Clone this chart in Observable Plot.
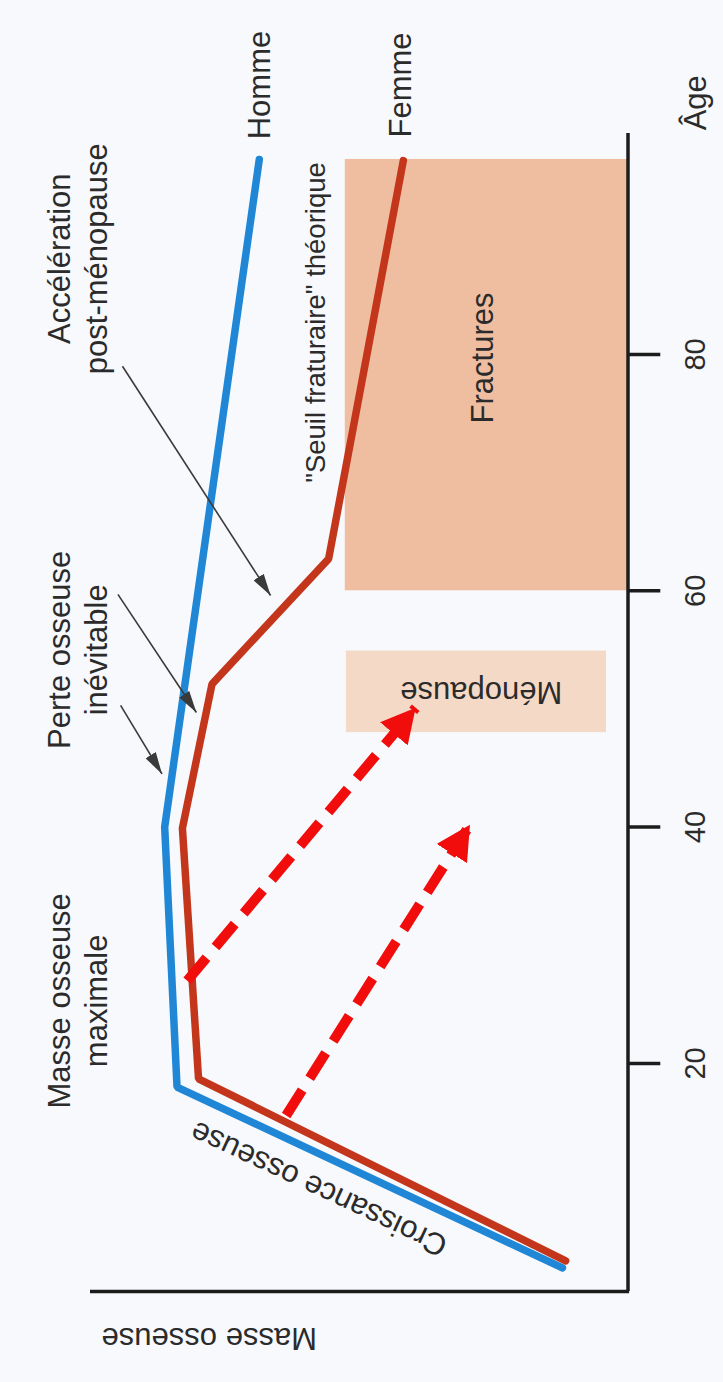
<!DOCTYPE html>
<html><head><meta charset="utf-8">
<script src="https://cdn.jsdelivr.net/npm/d3@7"></script>
<script src="https://cdn.jsdelivr.net/npm/@observablehq/plot@0.6"></script>
<style>
html,body{margin:0;padding:0;background:#f7f9fc;}
#chart svg{display:block;}
</style>
</head><body><div id="chart"></div>
<script>
// ---- data (age in years, bone mass in arbitrary units 0-100) ----
const hommeAge   = [2.7, 18.0, 40.0, 96.5];
const hommeMasse = [12.2, 83.9, 86.2, 68.6];
const femmeAge   = [3.3, 18.7, 39.9, 52.1, 62.7, 96.4];
const femmeMasse = [11.6, 79.9, 82.9, 77.4, 55.7, 41.8];
const ageTicks   = [20, 40, 60, 80];

const zoneLabels = ["Fractures", "Ménopause"];
const zoneAge1   = [60, 48.0];
const zoneAge2   = [96.5, 54.9];
const zoneMasse1 = [0, 4.0];
const zoneMasse2 = [52.6, 52.4];

const redFromAge   = [27.0, 15.6];
const redFromMasse = [82.0, 63.6];
const redToAge     = [50.1, 40.2];
const redToMasse   = [39.5, 29.4];

const blkFromAge   = [79.0, 59.7, 50.3];
const blkFromMasse = [94.05, 94.9, 94.4];
const blkToAge     = [59.6, 49.7, 44.5];
const blkToMasse   = [66.5, 80.3, 86.7];

const sideLabels = ["Accélération\npost-ménopause", "Perte osseuse\ninévitable", "Masse osseuse\nmaximale"];
const sideAge    = [88.1, 55.0, 25.3];

const BLUE = "#1f87d6", RED = "#c4361b", AXIS = "#1c1c1c", INK = "#2b2b2b";

const homme = hommeAge.map((a, i) => ({age: a, masse: hommeMasse[i]}));
const femme = femmeAge.map((a, i) => ({age: a, masse: femmeMasse[i]}));
const zones = zoneLabels.map((l, i) => ({label: l, a1: zoneAge1[i], a2: zoneAge2[i], m1: zoneMasse1[i], m2: zoneMasse2[i]}));
const redArrows = redFromAge.map((a, i) => ({a1: a, m1: redFromMasse[i], a2: redToAge[i], m2: redToMasse[i]}));
const blkArrows = blkFromAge.map((a, i) => ({a1: a, m1: blkFromMasse[i], a2: blkToAge[i], m2: blkToMasse[i]}));

function headMarker(len, wid) {
  return (color, context) => {
    const ns = "http://www.w3.org/2000/svg";
    const doc = (context && context.document) || document;
    const m = doc.createElementNS(ns, "marker");
    m.setAttribute("viewBox", `0 0 ${len} ${wid}`);
    m.setAttribute("markerWidth", len);
    m.setAttribute("markerHeight", wid);
    m.setAttribute("refX", len);
    m.setAttribute("refY", wid / 2);
    m.setAttribute("orient", "auto");
    m.setAttribute("markerUnits", "userSpaceOnUse");
    const p = doc.createElementNS(ns, "path");
    p.setAttribute("d", `M0,0L${len},${wid / 2}L0,${wid}Z`);
    p.setAttribute("fill", color);
    p.setAttribute("stroke", "none");
    p.setAttribute("stroke-dasharray", "none");
    m.appendChild(p);
    return m;
  };
}

const font = "'Liberation Sans', Arial, Helvetica, sans-serif";
const FS = 31;

const chart = Plot.plot({
  width: 723,
  height: 1382,
  margin: 0,
  x: {domain: [0, 100], range: [627.5, 90], axis: null},
  y: {domain: [0, 100], range: [1299.3, 117.6], axis: null},
  style: {fontFamily: font, background: "transparent", overflow: "visible"},
  marks: [
    Plot.rect(zones, {x1: "m1", x2: "m2", y1: "a1", y2: "a2",
      fill: d => d.label === "Fractures" ? "#efbea1" : "#f5d9c7"}),
    // axes
    Plot.ruleX([0], {y1: 0.7, y2: 98.7, stroke: AXIS, strokeWidth: 3.5}),
    Plot.ruleY([0.7], {x1: -0.3, x2: 100, stroke: AXIS, strokeWidth: 3.5}),
    Plot.ruleY(ageTicks, {x1: 0, x2: -6.1, stroke: AXIS, strokeWidth: 3.5}),
    Plot.text(ageTicks, {x: -12.6, y: d => d, text: d => String(d), rotate: -90,
      fontSize: 29, fill: INK, textAnchor: "middle", lineAnchor: "middle"}),
    Plot.text(["Âge"], {x: -12.6, y: 101.3, text: d => d, rotate: -90,
      fontSize: FS, fill: INK, textAnchor: "middle", lineAnchor: "middle"}),
    Plot.text(["Masse osseuse"], {x: 77.9, y: -3.2, text: d => d, rotate: 180,
      fontSize: FS, fill: INK, textAnchor: "middle", lineAnchor: "middle"}),
    // curves
    Plot.line(homme, {x: "masse", y: "age", stroke: BLUE, strokeWidth: 7.5, strokeLinejoin: "miter"}),
    Plot.line(femme, {x: "masse", y: "age", stroke: RED, strokeWidth: 7.5, strokeLinejoin: "miter"}),
    // annotation arrows
    Plot.link(blkArrows, {x1: "m1", y1: "a1", x2: "m2", y2: "a2", stroke: "#3a3a3a",
      strokeWidth: 1.6, markerEnd: headMarker(22, 12)}),
    Plot.link(redArrows, {x1: "m1", y1: "a1", x2: "m2", y2: "a2", stroke: "#f20d0d",
      strokeWidth: 10, strokeDasharray: "30,14", strokeLinecap: "butt", markerEnd: headMarker(34, 36)}),
    // labels
    Plot.text(sideLabels, {x: 102.5, y: (d, i) => sideAge[i], text: d => d, rotate: -90,
      fontSize: FS, lineHeight: 1.18, fill: INK, textAnchor: "middle", lineAnchor: "middle"}),
    Plot.text(["Homme", "Femme"], {x: [68.5, 42.3], y: [102.8, 102.8], text: d => d, rotate: -90,
      fontSize: FS, fill: INK, textAnchor: "middle", lineAnchor: "middle"}),
    Plot.text(["\"Seuil fraturaire\" théorique"], {x: 58.0, y: 82.7, text: d => d, rotate: -90,
      fontSize: 27.5, fill: INK, textAnchor: "middle", lineAnchor: "middle"}),
    Plot.text(["Fractures"], {x: 26.9, y: 79.7, text: d => d, rotate: -90,
      fontSize: FS, fill: INK, textAnchor: "middle", lineAnchor: "middle"}),
    Plot.text(["Ménopause"], {x: 27.3, y: 51.4, text: d => d, rotate: 180,
      fontSize: FS, fill: INK, textAnchor: "middle", lineAnchor: "middle"}),
    Plot.text(["Croissance osseuse"], {x: 57.5, y: 9.4, text: d => d, rotate: 205,
      fontSize: 31, fill: INK, textAnchor: "middle", lineAnchor: "middle"})
  ]
});
document.getElementById("chart").appendChild(chart);
</script>
</body></html>
